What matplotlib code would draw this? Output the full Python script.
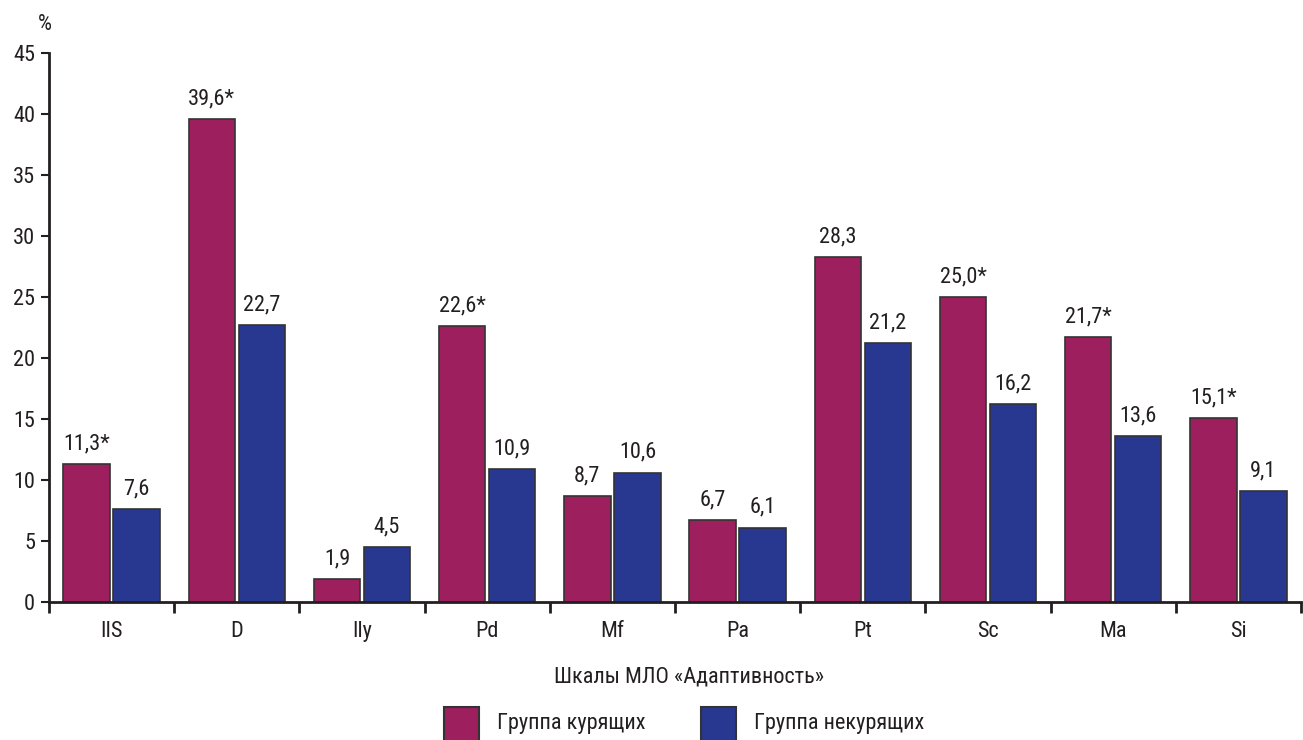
import numpy as np
import matplotlib as mpl
mpl.use('Agg')
import matplotlib.pyplot as plt
from matplotlib.patches import Rectangle
from matplotlib.ticker import FixedLocator, MultipleLocator

plt.rcParams['font.family'] = ['Roboto Condensed', 'Liberation Sans Narrow', 'Roboto', 'DejaVu Sans']

# data
scales = ['IIS', 'D', 'Ily', 'Pd', 'Mf', 'Pa', 'Pt', 'Sc', 'Ma', 'Si']
smokers = [11.3, 39.6, 1.9, 22.6, 8.7, 6.7, 28.3, 25.0, 21.7, 15.1]
nonsmokers = [7.6, 22.7, 4.5, 10.9, 10.6, 6.1, 21.2, 16.2, 13.6, 9.1]
signif = [True, True, False, True, False, False, False, True, True, True]
legend_names = ['Группа курящих', 'Группа некурящих']
col_smk = '#9e1f5e'
col_non = '#283891'

W, H = 1303, 740
fig = plt.figure(figsize=(W / 100, H / 100), dpi=100)
ax = fig.add_axes([49 / W, 1 - 602 / H, (1301 - 49) / W, (602 - 53) / H])

x = np.arange(len(scales))
bw = 0.37
b1 = ax.bar(x - 0.2, smokers, bw, color=col_smk, edgecolor='#333333', linewidth=1.2)
b2 = ax.bar(x + 0.2, nonsmokers, bw, color=col_non, edgecolor='#333333', linewidth=1.2)

fs = 16
for xi, v, s in zip(x, smokers, signif):
    t = '{:.1f}'.format(v).replace('.', ',') + ('*' if s else '')
    ax.text(xi - 0.2, v + 0.8, t, ha='center', va='bottom', fontsize=fs, color='#231f20')
for xi, v in zip(x, nonsmokers):
    t = '{:.1f}'.format(v).replace('.', ',')
    ax.text(xi + 0.2, v + 0.8, t, ha='center', va='bottom', fontsize=fs, color='#231f20')

ax.set_xlim(-0.5, len(scales) - 0.5)
ax.set_ylim(0, 45)
ax.yaxis.set_major_locator(MultipleLocator(5))
ax.set_xticks(x)
ax.set_xticklabels(scales, fontsize=fs, color='#231f20')
ax.xaxis.set_minor_locator(FixedLocator(np.arange(-0.5, len(scales), 1.0)))
ax.tick_params(axis='x', which='major', length=0, pad=14)
ax.tick_params(axis='x', which='minor', length=8, width=2, color='#231f20')
ax.tick_params(axis='y', length=6, width=1.5, color='#231f20', labelsize=fs, labelcolor='#231f20', pad=4)
for sp in ['top', 'right']:
    ax.spines[sp].set_visible(False)
for sp in ['left', 'bottom']:
    ax.spines[sp].set_linewidth(2)
    ax.spines[sp].set_color('#231f20')

fig.text(45 / W, 1 - 25 / H, '%', fontsize=16, ha='center', va='center', color='#231f20')
fig.text(689 / W, 1 - 677 / H, 'Шкалы МЛО «Адаптивность»', fontsize=fs, ha='center', va='center', color='#231f20')

# legend at bottom
for x0, c, name in [(444, col_smk, legend_names[0]), (701, col_non, legend_names[1])]:
    fig.patches.append(Rectangle((x0 / W, 1 - 742 / H), 35 / W, 35 / H, transform=fig.transFigure,
                                 facecolor=c, edgecolor='#333333', linewidth=1.5))
    fig.text((x0 + 53) / W, 1 - 724 / H, name, fontsize=fs, ha='left', va='center', color='#231f20')

fig.savefig('out.png', dpi=100)
